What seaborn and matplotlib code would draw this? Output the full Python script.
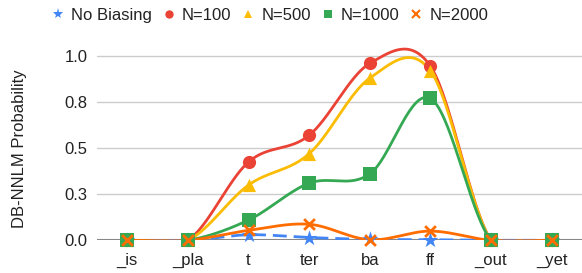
import numpy as np
import pandas as pd
import matplotlib
matplotlib.use("Agg")
import matplotlib.pyplot as plt
from matplotlib.lines import Line2D
import seaborn as sns

categories = ["_is", "_pla", "t", "ter", "ba", "ff", "_out", "_yet"]
no_biasing = [0.0, 0.0, 0.03, 0.015, 0.005, 0.003, 0.0, 0.0]
n100 = [0.0, 0.0, 0.425, 0.57, 0.96, 0.945, 0.0, 0.0]
n500 = [0.0, 0.0, 0.30, 0.47, 0.88, 0.92, 0.0, 0.0]
n1000 = [0.0, 0.0, 0.11, 0.31, 0.36, 0.77, 0.0, 0.0]
n2000 = [0.0, 0.0, 0.054, 0.087, 0.003, 0.05, 0.0, 0.0]
ytick_vals = [0.0, 0.25, 0.5, 0.75, 1.0]
ytick_labels = ["0.0", "0.3", "0.5", "0.8", "1.0"]

series = [
    ("No Biasing", no_biasing, "#4285F4", "*"),
    ("N=100", n100, "#EA4335", "o"),
    ("N=500", n500, "#FBBC04", "^"),
    ("N=1000", n1000, "#34A853", "s"),
    ("N=2000", n2000, "#FF6D01", "x"),
]


def catmull_rom(y, steps=60):
    y = np.asarray(y, dtype=float)
    n = len(y)
    m = np.zeros(n)
    for i in range(n):
        if 0 < i < n - 1:
            m[i] = (y[i + 1] - y[i - 1]) / 2
        elif i == 0:
            m[i] = (y[1] - y[0]) / 2
        else:
            m[i] = (y[-1] - y[-2]) / 2
    xs, ys = [], []
    for i in range(n - 1):
        t = np.linspace(0, 1, steps, endpoint=(i == n - 2))
        h00 = 2 * t**3 - 3 * t**2 + 1
        h10 = t**3 - 2 * t**2 + t
        h01 = -2 * t**3 + 3 * t**2
        h11 = t**3 - t**2
        xs.append(i + t)
        ys.append(h00 * y[i] + h10 * m[i] + h01 * y[i + 1] + h11 * m[i + 1])
    return np.concatenate(xs), np.concatenate(ys)


sns.set_theme(style="white")
plt.rcParams["font.family"] = ["Liberation Sans", "DejaVu Sans"]
FS = 12

fig = plt.figure(figsize=(5.82, 2.73), dpi=100)
ax = fig.add_axes([97 / 582, 1 - 240.3 / 273, 1 - 97 / 582, (240.3 - 37.6) / 273])

idx = np.arange(len(categories))
for k, (name, vals, color, mk) in enumerate(series):
    xs, ys = catmull_rom(vals)
    df = pd.DataFrame({"x": xs, "y": ys})
    sns.lineplot(data=df, x="x", y="y", ax=ax, color=color, linewidth=2,
                 linestyle=(0, (5, 2.5)) if name == "No Biasing" else "-",
                 sort=False, estimator=None, zorder=3 + k)
    pts = pd.DataFrame({"x": idx, "y": vals})
    if mk == "x":
        sns.scatterplot(data=pts, x="x", y="y", ax=ax, marker="x", s=60,
                        color=color, linewidth=2, clip_on=False, zorder=10 + k)
    else:
        size = 140 if mk == "*" else 90
        sns.scatterplot(data=pts, x="x", y="y", ax=ax, marker=mk, s=size,
                        color=color, edgecolor=color, linewidth=0,
                        clip_on=False, zorder=10 + k)

ax.set_xlim(-0.5, len(categories) - 0.5)
ax.set_ylim(0, 1.1)
ax.set_yticks(ytick_vals)
ax.set_yticklabels(ytick_labels)
ax.set_xticks(idx)
ax.set_xticklabels(categories)
ax.tick_params(axis="both", length=0, labelsize=FS, colors="#222222")
ax.tick_params(axis="y", pad=7)
ax.tick_params(axis="x", pad=9)
for v in ytick_vals[1:]:
    ax.axhline(v, color="#cccccc", linewidth=1, zorder=1)
ax.axhline(0, color="#888888", linewidth=1.5, zorder=2)
for s in ax.spines.values():
    s.set_visible(False)
ax.set_xlabel("")
ax.set_ylabel("")

fig.text(20 / 582, 1 - 149 / 273, "DB-NNLM Probability", rotation=90,
         ha="center", va="center", fontsize=FS, color="#222222")

handles = []
for name, vals, color, mk in series:
    ms = 8 if mk == "*" else 6
    handles.append(Line2D([], [], linestyle="", marker=mk, color=color,
                          markersize=ms, markeredgewidth=1.5 if mk == "x" else 0,
                          label=name))
fig.legend(handles=handles, loc="center", bbox_to_anchor=(269 / 582, 1 - 15 / 273),
           ncol=5, frameon=False, fontsize=FS, handletextpad=0.3,
           columnspacing=0.5, handlelength=1.0, labelcolor="#222222")

fig.savefig("out.png", dpi=100)
